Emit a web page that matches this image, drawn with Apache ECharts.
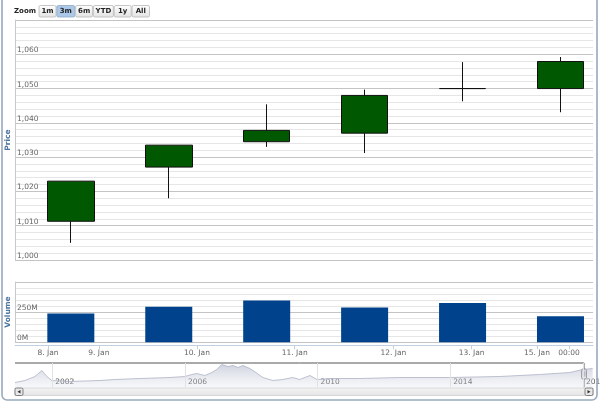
<!DOCTYPE html>
<html><head><meta charset="utf-8">
<script src="https://cdn.jsdelivr.net/npm/echarts@6/dist/echarts.min.js"></script>
<style>html,body{margin:0;padding:0;background:#fff}#c{width:600px;height:405px}</style>
</head><body><div id="c"></div>
<script>
// ---- data ----
const candleIndex = [0, 1, 2, 3, 4, 5];
const openVals  = [1011.3, 1027.1, 1034.5, 1037.0, 1050.0, 1050.0];
const closeVals = [1023.0, 1033.5, 1037.8, 1048.0, 1050.0, 1057.9];
const lowVals   = [1005.0, 1018.0, 1033.0, 1031.2, 1046.3, 1043.1];
const highVals  = [1023.0, 1033.5, 1045.4, 1049.7, 1057.7, 1059.2];
const volumeVals = [238e6, 294e6, 347e6, 288e6, 325e6, 217e6];
const xTickLabels = ['8. Jan', '9. Jan', '10. Jan', '11. Jan', '12. Jan', '13. Jan', '15. Jan', '00:00'];
const xTickAt = [-0.233, 0.286, 1.288, 2.286, 3.293, 4.093, 4.760, 5.087];
const navYears = [2000.88, 2001.18, 2001.48, 2001.69, 2001.84, 2001.99, 2002.54, 2003.44, 2003.89, 2004.65,
  2005.55, 2006.0, 2006.21, 2006.36, 2006.60, 2006.81, 2006.96, 2007.11, 2007.30, 2007.45,
  2007.60, 2007.75, 2007.96, 2008.14, 2008.35, 2008.65, 2008.95, 2009.25, 2009.46, 2009.77,
  2009.98, 2010.37, 2011.27, 2012.48, 2013.98, 2015.49, 2016.69, 2017.60, 2017.99, 2018.29];
const navValues = [5, 7, 11, 17, 11, 7, 6, 7, 8, 9,
  10, 11, 13, 14, 12, 15, 18, 23, 21, 22,
  20, 22, 19, 15, 10, 7, 8, 10, 8, 12,
  8, 9, 9, 10, 10, 11, 13, 15, 18, 19];
const navTickYears = [2002, 2006, 2010, 2014, 2018];
const axisTitles = ['Price', 'Volume'];
const zoomButtons = ['1m', '3m', '6m', 'YTD', '1y', 'All'];
const selectedZoom = '3m';

// ---- chart ----
const FONT = 'DejaVu Sans';
const labelColor = '#666';
const titleColor = '#4d759e';
const fmtThousands = v => String(Math.round(v)).replace(/\B(?=(\d{3})+(?!\d))/g, ',');

const chart = echarts.init(document.getElementById('c'), null, {renderer: 'canvas'});

const graphics = [];
// axis titles (rotated text)
const titleCenters = [140, 312];
axisTitles.forEach((t, i) => {
  graphics.push({type: 'text', x: 8, y: titleCenters[i], rotation: Math.PI / 2,
    style: {text: t, font: 'bold 7.5px ' + FONT, fill: titleColor, textAlign: 'center', textVerticalAlign: 'middle'}});
});
// zoom buttons
const btnW = [17, 18, 17, 20, 17, 17.5];
graphics.push({type: 'text', style: {text: 'Zoom', x: 14, y: 11.5, font: 'bold 7px ' + FONT, fill: '#222', textAlign: 'left', textVerticalAlign: 'middle'}});
let bx = 39;
zoomButtons.forEach((b, i) => {
  const sel = b === selectedZoom;
  graphics.push({type: 'rect', shape: {x: bx, y: 5.5, width: btnW[i], height: 11.5, r: 1.5},
    style: {fill: sel ? '#acc8e8' : new echarts.graphic.LinearGradient(0, 0, 0, 1, [{offset: 0, color: '#ffffff'}, {offset: 1, color: '#e2e2e2'}]),
      stroke: sel ? '#8fa8c8' : '#b8b8b8', lineWidth: 0.8}});
  graphics.push({type: 'text', style: {text: b, x: bx + btnW[i] / 2, y: 11.5, font: 'bold 7px ' + FONT, fill: '#222', textAlign: 'center', textVerticalAlign: 'middle'}});
  bx += btnW[i] + 0.8;
});
// navigator outline + handle
graphics.push({type: 'line', shape: {x1: 15, y1: 363, x2: 584, y2: 363}, style: {stroke: '#555', lineWidth: 1}});
graphics.push({type: 'line', shape: {x1: 584, y1: 363, x2: 584, y2: 387.5}, style: {stroke: '#555', lineWidth: 1}});
graphics.push({type: 'rect', shape: {x: 581.5, y: 369, width: 5, height: 10, r: 1.5}, style: {fill: '#eeeeee', stroke: '#666', lineWidth: 0.8}});
graphics.push({type: 'line', shape: {x1: 583.5, y1: 371.5, x2: 583.5, y2: 376.5}, style: {stroke: '#666', lineWidth: 0.6}});
graphics.push({type: 'line', shape: {x1: 584.8, y1: 371.5, x2: 584.8, y2: 376.5}, style: {stroke: '#666', lineWidth: 0.6}});
// scrollbar
graphics.push({type: 'rect', shape: {x: 15, y: 388, width: 578, height: 7.5},
  style: {fill: new echarts.graphic.LinearGradient(0, 0, 0, 1, [{offset: 0, color: '#f4f4f4'}, {offset: 1, color: '#e4e4e4'}]), stroke: '#cfcfcf', lineWidth: 0.8}});
graphics.push({type: 'rect', shape: {x: 15, y: 388, width: 8, height: 7.5, r: 1.5}, style: {fill: '#e8e8e8', stroke: '#666', lineWidth: 0.8}});
graphics.push({type: 'polygon', shape: {points: [[17.5, 391.75], [20.5, 389.9], [20.5, 393.6]]}, style: {fill: '#333'}});
graphics.push({type: 'rect', shape: {x: 585, y: 388, width: 8, height: 7.5, r: 1.5}, style: {fill: '#e8e8e8', stroke: '#666', lineWidth: 0.8}});
graphics.push({type: 'polygon', shape: {points: [[590.5, 391.75], [587.5, 389.9], [587.5, 393.6]]}, style: {fill: '#333'}});
// outer border
graphics.push({type: 'rect', z: 100, shape: {x: 2, y: -10, width: 595, height: 410, r: 5}, style: {fill: 'none', stroke: '#98a9bd', lineWidth: 1.6}});

const xRange = {min: -0.57, max: 5.332};

chart.setOption({
  animation: false,
  backgroundColor: '#fff',
  textStyle: {fontFamily: FONT},
  grid: [
    {left: 15, top: 20, width: 578, height: 240, outerBoundsMode: 'none', containLabel: false},
    {left: 15, top: 282, width: 578, height: 60.3, outerBoundsMode: 'none', containLabel: false},
    {left: 15, top: 363, width: 578, height: 24.5, outerBoundsMode: 'none', containLabel: false}
  ],
  xAxis: [
    {type: 'value', gridIndex: 0, min: xRange.min, max: xRange.max, show: false, splitLine: {show: false}},
    {type: 'value', gridIndex: 1, min: xRange.min, max: xRange.max, offset: 3,
      axisLine: {show: true, onZero: false, lineStyle: {color: '#C0D0E0', width: 1}},
      axisTick: {show: true, customValues: xTickAt, length: 4, lineStyle: {color: '#C0D0E0'}},
      axisLabel: {show: true, customValues: xTickAt, margin: 4, color: labelColor, fontSize: 7.5, fontFamily: FONT,
        formatter: v => {
          let best = 0;
          xTickAt.forEach((p, i) => { if (Math.abs(p - v) < Math.abs(xTickAt[best] - v)) best = i; });
          return xTickLabels[best];
        }},
      splitLine: {show: false}},
    {type: 'value', gridIndex: 2, min: 2000.88, max: 2018.3,
      axisLine: {show: false, onZero: false}, axisTick: {show: false},
      axisLabel: {show: true, inside: true, customValues: navTickYears, margin: 1, align: 'left', padding: [0, 0, 0, 3],
        color: '#555', fontSize: 7.5, fontFamily: FONT, formatter: v => String(Math.round(v))},
      splitLine: {show: false}}
  ],
  yAxis: [
    {type: 'value', gridIndex: 0, min: 1000, max: 1070, interval: 10, position: 'left',
      axisLine: {show: true, onZero: false, lineStyle: {color: '#C8C8C8'}},
      axisTick: {show: false},
      axisLabel: {inside: true, margin: 2, align: 'left', verticalAlign: 'bottom', color: labelColor, fontSize: 7.5, fontFamily: FONT,
        formatter: v => v >= 1070 ? '' : fmtThousands(v)},
      splitLine: {show: true, lineStyle: {color: '#C4C4C4', width: 1}},
      minorTick: {show: false, splitNumber: 5},
      minorSplitLine: {show: true, lineStyle: {color: '#E6E6E6', width: 1}}},
    {type: 'value', gridIndex: 1, min: 0, max: 500e6, interval: 250e6, position: 'left',
      axisLine: {show: true, onZero: false, lineStyle: {color: '#C8C8C8'}},
      axisTick: {show: false},
      axisLabel: {inside: true, margin: 2, align: 'left', verticalAlign: 'bottom', color: labelColor, fontSize: 7.5, fontFamily: FONT,
        formatter: v => v >= 500e6 ? '' : (Math.round(v / 1e6) + 'M')},
      splitLine: {show: true, lineStyle: {color: '#C4C4C4', width: 1}},
      minorTick: {show: false, splitNumber: 5},
      minorSplitLine: {show: true, lineStyle: {color: '#E6E6E6', width: 1}}},
    {type: 'value', gridIndex: 2, min: 0, max: 24.5, show: false, splitLine: {show: false}}
  ],
  series: [
    {type: 'candlestick', xAxisIndex: 0, yAxisIndex: 0, barWidth: 47,
      data: candleIndex.map(i => [i, openVals[i], closeVals[i], lowVals[i], highVals[i]]),
      itemStyle: {color: '#005800', color0: '#005800', borderColor: '#111', borderColor0: '#111', borderColorDoji: '#111', borderWidth: 1}},
    {type: 'bar', xAxisIndex: 1, yAxisIndex: 1, barWidth: 47,
      data: candleIndex.map(i => [i, volumeVals[i]]),
      itemStyle: {color: '#00438c'}},
    {type: 'line', xAxisIndex: 2, yAxisIndex: 2, symbol: 'none', silent: true,
      data: navYears.map((y, i) => [y, navValues[i]]),
      lineStyle: {color: '#aeb2c4', width: 0.8},
      areaStyle: {color: new echarts.graphic.LinearGradient(0, 0, 0, 1, [{offset: 0, color: 'rgba(165,172,196,0.75)'}, {offset: 1, color: 'rgba(225,228,236,0.4)'}])},
      markLine: {silent: true, symbol: ['none', 'none'], label: {show: false},
        lineStyle: {color: '#e2e2e2', type: 'solid', width: 1},
        data: navTickYears.map(t => ({xAxis: t}))}}
  ],
  graphic: {elements: graphics}
});
</script>
</body></html>
